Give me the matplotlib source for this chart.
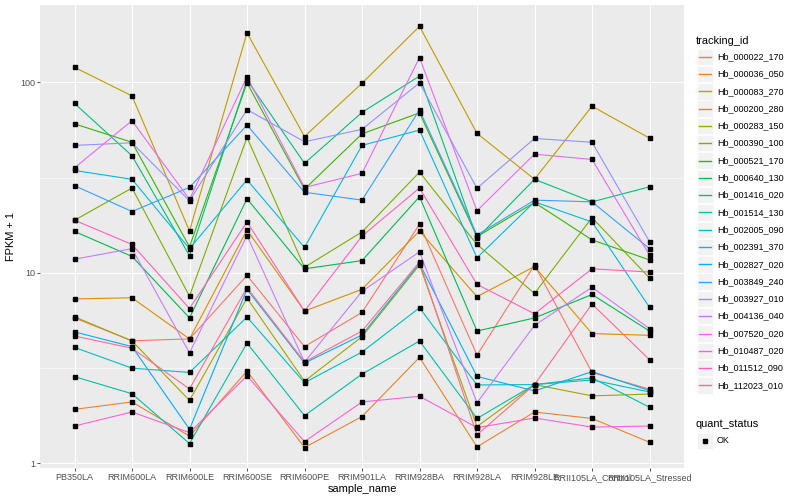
import matplotlib
matplotlib.use("Agg")
import matplotlib.pyplot as plt
from matplotlib.patches import Rectangle
from matplotlib.lines import Line2D
from matplotlib.ticker import FixedLocator, NullFormatter

samples = ["PB350LA", "RRIM600LA", "RRIM600LE", "RRIM600SE", "RRIM600PE",
           "RRIM901LA", "RRIM928BA", "RRIM928LA", "RRIM928LE",
           "RRII105LA_Control", "RRII105LA_Stressed"]

# FPKM + 1
hb_000022_170 = [5.8, 4.4, 4.5, 9.7, 4.1, 6.2, 18.0, 3.7, 11.0, 3.0, 2.45]
hb_000036_050 = [1.92, 2.10, 1.39, 3.05, 1.21, 1.76, 3.6, 1.22, 1.86, 1.72, 1.29]
hb_000083_270 = [7.3, 7.4, 4.5, 16.8, 6.3, 8.2, 16.6, 7.5, 10.8, 4.8, 4.7]
hb_000200_280 = [120, 85, 16.6, 182, 52, 99, 197, 54, 31, 75, 51]
hb_000283_150 = [5.88, 4.39, 2.14, 7.37, 2.7, 4.62, 11.0, 1.56, 2.59, 2.26, 2.31]
hb_000390_100 = [18.9, 27.9, 7.55, 51.4, 10.7, 16.4, 33.8, 14.1, 7.8, 19.5, 9.4]
hb_000521_170 = [60.6, 48.5, 13.7, 99.5, 27.5, 53.7, 69.2, 15.5, 23.4, 14.9, 11.7]
hb_000640_130 = [16.5, 12.2, 5.8, 24.5, 10.5, 11.6, 25.1, 4.95, 5.8, 7.7, 4.95]
hb_001416_020 = [77.6, 41.2, 12.3, 103, 37.6, 69.6, 108, 15.2, 31, 23.6, 28.3]
hb_001514_130 = [2.85, 2.32, 1.27, 4.28, 1.78, 2.94, 4.39, 1.72, 2.59, 2.81, 1.97]
hb_002005_090 = [4.06, 3.16, 3.0, 5.86, 2.65, 3.84, 6.56, 2.58, 2.59, 2.74, 2.37]
hb_002391_370 = [34.5, 31, 13.4, 30.8, 13.6, 46.7, 56.2, 12.0, 23.6, 18.5, 6.6]
hb_002827_020 = [4.9, 4.1, 1.51, 8.2, 3.36, 4.72, 11.2, 2.86, 2.40, 3.03, 2.41]
hb_003849_240 = [28.7, 21.0, 28.1, 59.7, 26.5, 24.1, 71.6, 15.8, 24.1, 23.6, 13.4]
hb_003927_010 = [46.7, 48.2, 23.9, 72, 48.8, 56.7, 99.5, 27.8, 50.8, 48.5, 14.6]
hb_004136_040 = [11.8, 13.4, 3.8, 15.7, 3.4, 8.0, 12.9, 2.08, 5.3, 8.4, 5.1]
hb_007520_020 = [35.6, 63, 24.3, 107, 28.1, 33.3, 135, 21.2, 42, 39.4, 12.4]
hb_010487_020 = [1.57, 1.86, 1.45, 2.88, 1.30, 2.10, 2.25, 1.54, 1.73, 1.55, 1.57]
hb_011512_090 = [18.9, 14.1, 6.5, 18.5, 6.3, 15.6, 27.9, 8.7, 6.1, 10.5, 10.1]
hb_112023_010 = [4.66, 4.02, 2.46, 8.37, 3.41, 4.95, 11.4, 1.41, 2.59, 6.86, 3.5]

tracking_ids = ["Hb_000022_170", "Hb_000036_050", "Hb_000083_270",
                "Hb_000200_280", "Hb_000283_150", "Hb_000390_100",
                "Hb_000521_170", "Hb_000640_130", "Hb_001416_020",
                "Hb_001514_130", "Hb_002005_090", "Hb_002391_370",
                "Hb_002827_020", "Hb_003849_240", "Hb_003927_010",
                "Hb_004136_040", "Hb_007520_020", "Hb_010487_020",
                "Hb_011512_090", "Hb_112023_010"]

series = [hb_000022_170, hb_000036_050, hb_000083_270, hb_000200_280,
          hb_000283_150, hb_000390_100, hb_000521_170, hb_000640_130,
          hb_001416_020, hb_001514_130, hb_002005_090, hb_002391_370,
          hb_002827_020, hb_003849_240, hb_003927_010, hb_004136_040,
          hb_007520_020, hb_010487_020, hb_011512_090, hb_112023_010]

# ggplot hue palette, 20 levels
colors = ["#F8766D", "#EA8331", "#D89000", "#C09B00", "#A3A500", "#7CAE00",
          "#39B600", "#00BB4E", "#00BF7D", "#00C1A3", "#00BFC4", "#00BAE0",
          "#00B0F6", "#35A2FF", "#9590FF", "#C77CFF", "#E76BF3", "#FA62DB",
          "#FF62BC", "#FF6C91"]

quant_levels = ["OK"]


def legend_key(fig, yc, W, H):
    fig.patches.append(Rectangle((696.5 / W, 1 - (yc + 8.2) / H),
                                 16.5 / W, 16.4 / H,
                                 transform=fig.transFigure,
                                 facecolor="#F2F2F2", edgecolor="white",
                                 lw=0.5, zorder=1))


def main():
    plt.rcParams['font.family'] = ['Liberation Sans', 'DejaVu Sans']
    fig = plt.figure(figsize=(8, 5), dpi=100)
    ax = fig.add_axes([40 / 800, 32 / 500, 644 / 800, 463 / 500])
    ax.set_facecolor("#EBEBEB")

    for vals, col in zip(series, colors):
        ax.plot(samples, vals, color=col, lw=0.8, zorder=3)
    for vals in series:
        ax.plot(samples, vals, ls="none", marker="s", ms=2.2,
                color="black", zorder=4)

    ax.set_yscale("log")
    ax.set_ylim(0.945, 255)
    ax.set_xlim(-0.6, len(samples) - 0.4)
    ax.yaxis.set_major_locator(FixedLocator([1, 10, 100]))
    ax.set_yticklabels(["1", "10", "100"])
    ax.yaxis.set_minor_locator(FixedLocator([10 ** 0.5, 10 ** 1.5]))
    ax.yaxis.set_minor_formatter(NullFormatter())

    ax.grid(which="major", color="white", lw=0.8, zorder=0)
    ax.grid(which="minor", axis="y", color="white", lw=0.4, zorder=0)
    ax.set_axisbelow(True)
    for s in ax.spines.values():
        s.set_visible(False)
    ax.tick_params(which="major", length=2.2, width=0.6, color="#333333",
                   labelsize=6.5, labelcolor="#4D4D4D", pad=1.5)
    ax.tick_params(which="minor", length=0)

    ax.set_xlabel("sample_name", fontsize=7.9, labelpad=1.5)
    ax.set_ylabel("FPKM + 1", fontsize=7.9, labelpad=3)

    # legend, ggplot style
    W, H = 800.0, 500.0
    fig.text(696 / W, 1 - 40.5 / H, "tracking_id", fontsize=7.9,
             va="center", ha="left")
    step = 17.3
    y0 = 56.7
    for i, (tid, col) in enumerate(zip(tracking_ids, colors)):
        yc = y0 + i * step
        legend_key(fig, yc, W, H)
        fig.lines.append(Line2D([698.5 / W, 711 / W], [1 - yc / H] * 2,
                                transform=fig.transFigure, color=col,
                                lw=1.0, zorder=5))
        fig.text(717 / W, 1 - yc / H, tid, fontsize=6.5, va="center",
                 ha="left")

    qy = y0 + len(tracking_ids) * step + 21
    fig.text(696 / W, 1 - qy / H, "quant_status", fontsize=7.9,
             va="center", ha="left")
    for j, lev in enumerate(quant_levels):
        yc = qy + 17 + j * step
        legend_key(fig, yc, W, H)
        fig.lines.append(Line2D([704.7 / W], [1 - yc / H],
                                transform=fig.transFigure, ls="none",
                                marker="s", ms=2.2, color="black", zorder=5))
        fig.text(717 / W, 1 - yc / H, lev, fontsize=6.5, va="center",
                 ha="left")

    fig.savefig("out.png", dpi=100)


if __name__ == "__main__":
    main()
